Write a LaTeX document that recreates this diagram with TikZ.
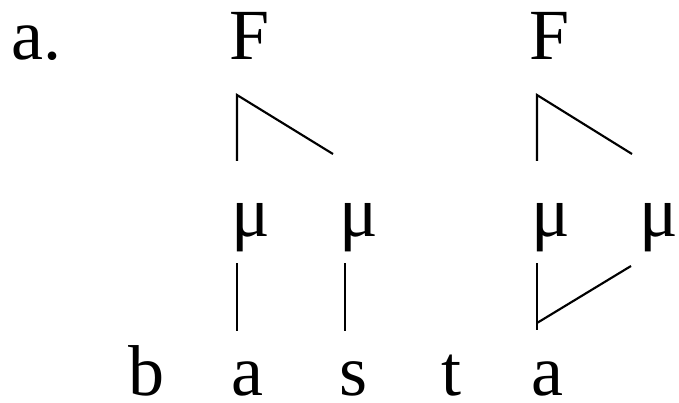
\documentclass[tikz,border=0pt]{standalone}
\usepackage{fontspec}
\setmainfont{Liberation Serif}
\begin{document}
\begin{tikzpicture}[x=0.75pt,y=-0.75pt,
  txt/.style={inner sep=0pt,anchor=base west,font=\fontsize{54}{60}\selectfont},
  ln/.style={line width=1.6pt,line cap=butt}]
\useasboundingbox (0,0) rectangle (679,403);
% labels
\node[txt] (lab) at (11,60) {a.};
\node[txt] (F1) at (229,60) {F};
\node[txt] (F2) at (529,60) {F};
\node[txt] (m1) at (231,236) {μ};
\node[txt] (m2) at (339,236) {μ};
\node[txt] (m3) at (531,236) {μ};
\node[txt] (m4) at (639,236) {μ};
\node[txt] (s1) at (128,395) {b};
\node[txt] (s2) at (231,395) {a};
\node[txt] (s3) at (339,395) {s};
\node[txt] (s4) at (441,395) {t};
\node[txt] (s5) at (531,395) {a};
% connector endpoints
\coordinate (F1top) at (237,95);
\coordinate (F1l) at (237,161);
\coordinate (F1r) at (333,154);
\coordinate (F2top) at (537,95);
\coordinate (F2l) at (537,161);
\coordinate (F2r) at (632,154);
\coordinate (m1b) at (237,263);
\coordinate (s2t) at (237,331);
\coordinate (m2b) at (345,263);
\coordinate (s3t) at (345,331);
\coordinate (m3b) at (537,263);
\coordinate (s5t) at (537,330);
\coordinate (s5j) at (537,323);
\coordinate (m4b) at (631,266);
% connectors
\draw[ln] (F1l) -- (F1top) -- (F1r);
\draw[ln] (F2l) -- (F2top) -- (F2r);
\draw[ln] (m1b) -- (s2t);
\draw[ln] (m2b) -- (s3t);
\draw[ln] (m3b) -- (s5t);
\draw[ln] (s5j) -- (m4b);
\end{tikzpicture}
\end{document}
